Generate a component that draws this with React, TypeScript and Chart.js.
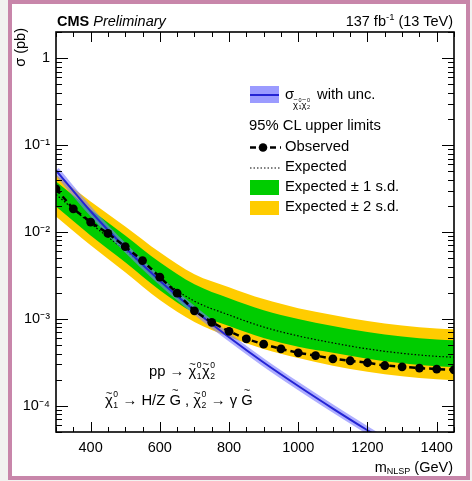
import React, { useEffect, useRef } from "react";
import { Chart, registerables } from "chart.js";

Chart.register(...registerables);

const FONT = '"Liberation Sans", Arial, Helvetica, sans-serif';

// ---- data ----
const massObs = [300, 350, 400, 450, 500, 550, 600, 650, 700, 750, 800, 850, 900, 950, 1000, 1050, 1100, 1150, 1200, 1250, 1300, 1350, 1400, 1450];
const obsLimit = [0.0313, 0.0185, 0.0130, 0.00964, 0.00679, 0.00469, 0.00302, 0.00198, 0.00124, 0.000914, 0.00072, 0.000589, 0.000512, 0.000452, 0.000407, 0.000379, 0.000347, 0.00033, 0.000313, 0.000291, 0.000281, 0.000272, 0.000265, 0.00026];

const massExp = [300, 400, 500, 600, 700, 800, 900, 1000, 1100, 1200, 1300, 1400, 1450];
const expLimit = [0.027, 0.01254, 0.00615, 0.00294, 0.0016, 0.00111, 0.000807, 0.000637, 0.00053, 0.000452, 0.000402, 0.000371, 0.000363];
const exp1Up = [0.038, 0.01815, 0.00914, 0.00449, 0.00251, 0.00173, 0.00126, 0.000998, 0.00083, 0.000708, 0.000629, 0.000581, 0.000569];
const exp1Down = [0.01965, 0.00914, 0.00449, 0.00214, 0.00117, 0.00083, 0.000604, 0.000477, 0.000407, 0.000347, 0.000308, 0.000285, 0.000279];
const exp2Up = [0.0457, 0.02243, 0.01159, 0.00584, 0.00327, 0.00232, 0.00169, 0.00133, 0.00111, 0.000946, 0.00084, 0.000776, 0.00076];
const exp2Down = [0.0151, 0.00702, 0.00344, 0.00165, 0.000922, 0.000621, 0.000452, 0.000356, 0.000289, 0.000246, 0.000219, 0.000202, 0.000198];

const massTheory = [300, 400, 500, 600, 700, 800, 900, 1000, 1100, 1200, 1300];
const xsecTheory = [0.0512, 0.01734, 0.00659, 0.00275, 0.001256, 0.000615, 0.000315, 0.000169, 0.0000931, 0.0000524, 0.00003];

const xTickValues = [400, 600, 800, 1000, 1200, 1400];
const xTickLabels = ["400", "600", "800", "1000", "1200", "1400"];
const yTickValues = [1e-4, 1e-3, 1e-2, 1e-1, 1];
const yTickLabels = ["10\u207B\u2074", "10\u207B\u00B3", "10\u207B\u00B2", "10\u207B\u00B9", "1"];

const X_MIN = 300;
const X_MAX = 1450;
const Y_MIN = 5e-5;
const Y_MAX = 2;

const YELLOW = "#ffcc00";
const GREEN = "#00cc00";
const BLUE = "#2424d4";
const BLUE_BAND = "rgba(120,120,255,0.6)";

const pts = (xs: number[], ys: number[]) => xs.map((x, i) => ({ x, y: ys[i] }));

const frameTicks = {
  id: "frameTicks",
  afterDatasetsDraw(chart: any) {
    const { ctx, chartArea: a, scales } = chart;
    const xs = scales.x;
    const ys = scales.y;
    ctx.save();
    ctx.strokeStyle = "#000";
    ctx.lineWidth = 1;
    ctx.beginPath();
    for (let v = X_MIN; v <= X_MAX; v += 50) {
      const px = Math.round(xs.getPixelForValue(v)) + 0.5;
      const len = v % 200 === 0 ? 10 : 5;
      ctx.moveTo(px, a.bottom);
      ctx.lineTo(px, a.bottom - len);
      ctx.moveTo(px, a.top);
      ctx.lineTo(px, a.top + len);
    }
    for (let e = -5; e <= 0; e++) {
      for (let k = 1; k <= 9; k++) {
        const v = k * Math.pow(10, e);
        if (v < Y_MIN || v > Y_MAX) continue;
        const py = Math.round(ys.getPixelForValue(v)) + 0.5;
        const len = k === 1 ? 12 : 6;
        ctx.moveTo(a.left, py);
        ctx.lineTo(a.left + len, py);
        ctx.moveTo(a.right, py);
        ctx.lineTo(a.right - len, py);
      }
    }
    ctx.stroke();
    ctx.lineWidth = 1.6;
    ctx.strokeRect(a.left, a.top, a.right - a.left, a.bottom - a.top);
    ctx.restore();
  },
};

function T({ x, y, size = 14.5, align = "left", children, style }: any) {
  const s: any = {
    position: "absolute",
    top: y - 0.8465 * size,
    fontSize: size,
    lineHeight: 1,
    fontFamily: FONT,
    color: "#000",
    whiteSpace: "nowrap",
    ...style,
  };
  if (align === "right") s.right = 472 - x;
  else s.left = x;
  return <div style={s}>{children}</div>;
}

// letter with a tilde drawn above it; h = height of tilde centre above baseline (in em)
function Tilde({ ch, size, h }: any) {
  const f = size * 0.75;
  return (
    <span style={{ position: "relative", display: "inline-block", lineHeight: 1 }}>
      {ch}
      <span
        style={{
          position: "absolute",
          left: 0,
          right: 0,
          textAlign: "center",
          top: (0.8465 - h) * size - 0.62 * f,
          fontSize: f,
          lineHeight: 1,
        }}
      >
        ~
      </span>
    </span>
  );
}

function Chi({ sup, sub, size }: any) {
  const f = size * 0.58;
  return (
    <span style={{ whiteSpace: "nowrap" }}>
      <Tilde ch={"\u03C7"} size={size} h={0.74} />
      <span style={{ display: "inline-block", position: "relative", width: size * 0.38, height: 0 }}>
        <span style={{ position: "absolute", left: size * 0.04, top: -0.55 * size - 0.8465 * f, fontSize: f, lineHeight: 1 }}>{sup}</span>
        <span style={{ position: "absolute", left: size * 0.04, top: 0.17 * size - 0.8465 * f, fontSize: f, lineHeight: 1 }}>{sub}</span>
      </span>
    </span>
  );
}

export default function App() {
  const ref = useRef<HTMLCanvasElement | null>(null);

  useEffect(() => {
    if (!ref.current) return;
    const band = { borderWidth: 0, borderColor: "rgba(0,0,0,0)", pointRadius: 0, cubicInterpolationMode: "monotone", clip: 0 };
    const chart = new Chart(ref.current, {
      type: "line",
      data: {
        datasets: [
          { ...band, data: pts(massExp, exp2Up), backgroundColor: YELLOW, fill: 1, order: 10 },
          { ...band, data: pts(massExp, exp2Down), fill: false, order: 10 },
          { ...band, data: pts(massExp, exp1Up), backgroundColor: GREEN, fill: 3, order: 9 },
          { ...band, data: pts(massExp, exp1Down), fill: false, order: 9 },
          {
            data: pts(massExp, expLimit),
            borderColor: "#000",
            borderWidth: 1.2,
            borderDash: [1.5, 2],
            pointRadius: 0,
            fill: false,
            cubicInterpolationMode: "monotone",
            clip: 0,
            order: 5,
          },
          {
            data: pts(massTheory, xsecTheory),
            borderColor: BLUE_BAND,
            borderWidth: 7,
            pointRadius: 0,
            fill: false,
            cubicInterpolationMode: "monotone",
            clip: 0,
            order: 4,
          },
          {
            data: pts(massTheory, xsecTheory),
            borderColor: BLUE,
            borderWidth: 2,
            pointRadius: 0,
            fill: false,
            cubicInterpolationMode: "monotone",
            clip: 0,
            order: 3,
          },
          {
            data: pts(massObs, obsLimit),
            borderColor: "#000",
            borderWidth: 2.5,
            borderDash: [6, 4],
            pointRadius: 4.4,
            pointBackgroundColor: "#000",
            pointBorderWidth: 0,
            fill: false,
            tension: 0,
            order: 1,
          },
        ] as any,
      },
      options: {
        animation: false,
        responsive: false,
        maintainAspectRatio: false,
        devicePixelRatio: 1,
        layout: { padding: { top: 32, right: 18, left: 0, bottom: 0 } },
        plugins: { legend: { display: false }, title: { display: false }, tooltip: { enabled: false } },
        events: [],
        scales: {
          x: {
            type: "linear",
            min: X_MIN,
            max: X_MAX,
            grid: { display: false, drawTicks: false },
            border: { display: false },
            afterBuildTicks: (s: any) => {
              s.ticks = xTickValues.map((v) => ({ value: v }));
            },
            afterFit: (s: any) => {
              s.height = 49;
            },
            ticks: {
              autoSkip: false,
              maxRotation: 0,
              padding: 7,
              color: "#000",
              font: { family: FONT, size: 14.5 },
              callback: (_v: any, i: number) => xTickLabels[i],
            },
          },
          y: {
            type: "logarithmic",
            min: Y_MIN,
            max: Y_MAX,
            grid: { display: false, drawTicks: false },
            border: { display: false },
            afterBuildTicks: (s: any) => {
              s.ticks = yTickValues.map((v) => ({ value: v }));
            },
            afterFit: (s: any) => {
              s.width = 56;
            },
            ticks: {
              autoSkip: false,
              padding: 6,
              color: "#000",
              font: { family: FONT, size: 14.5 },
              callback: (_v: any, i: number) => yTickLabels[i],
            },
          },
        },
      } as any,
      plugins: [frameTicks],
    });
    return () => chart.destroy();
  }, []);

  return (
    <div style={{ position: "fixed", left: 0, top: 0, width: 472, height: 481, background: "#f2f2f0", overflow: "hidden" }}>
      <div
        style={{
          position: "absolute",
          left: 8,
          top: 0,
          width: 462,
          height: 480,
          boxSizing: "border-box",
          border: "4px solid #c886aa",
          background: "#fff",
        }}
      />
      <canvas ref={ref} width={472} height={481} style={{ position: "absolute", left: 0, top: 0, width: 472, height: 481 }} />

      {/* header */}
      <T x={57} y={26} size={14.5}>
        <b>CMS</b> <i>Preliminary</i>
      </T>
      <T x={453} y={26} size={14.5} align="right">
        137 fb<span style={{ fontSize: 9.5, position: "relative", top: -6 }}>-1</span> (13 TeV)
      </T>

      {/* y axis title */}
      <div
        style={{
          position: "absolute",
          left: 20 - 40,
          top: 28 + 40 - 8,
          width: 80,
          height: 16,
          lineHeight: "16px",
          textAlign: "right",
          fontFamily: FONT,
          fontSize: 14.5,
          transform: "rotate(-90deg)",
          whiteSpace: "nowrap",
        }}
      >
        {"\u03C3 (pb)"}
      </div>

      {/* x axis title */}
      <T x={453} y={472} size={14.5} align="right">
        m<span style={{ fontSize: 9, position: "relative", top: 2.5 }}>NLSP</span> (GeV)
      </T>

      {/* legend */}
      <div style={{ position: "absolute", left: 250, top: 86, width: 29, height: 17, background: "#9b9bff" }} />
      <div style={{ position: "absolute", left: 250, top: 93.5, width: 29, height: 2, background: BLUE }} />
      <T x={285} y={100} size={14.8}>{"\u03C3"}</T>
      <T x={293} y={108} size={9.5}>
        <Chi sup="0" sub="1" size={9.5} />
        <Chi sup="0" sub="2" size={9.5} />
      </T>
      <T x={317} y={100} size={14.8}>with unc.</T>

      <T x={249} y={131} size={14.8}>95% CL upper limits</T>

      <svg style={{ position: "absolute", left: 248, top: 140 }} width={36} height={14}>
        <line x1={2} y1={7.5} x2={33} y2={7.5} stroke="#000" strokeWidth={2.5} strokeDasharray="6 4" />
        <circle cx={15} cy={7.5} r={4.3} fill="#000" />
      </svg>
      <T x={285} y={152} size={14.8}>Observed</T>

      <svg style={{ position: "absolute", left: 248, top: 161 }} width={36} height={14}>
        <line x1={2} y1={7} x2={33} y2={7} stroke="#000" strokeWidth={1.2} strokeDasharray="1.5 2" />
      </svg>
      <T x={285} y={172} size={14.8}>Expected</T>

      <div style={{ position: "absolute", left: 250, top: 180, width: 29, height: 15, background: GREEN }} />
      <T x={285} y={192} size={14.8}>Expected ± 1 s.d.</T>

      <div style={{ position: "absolute", left: 250, top: 201, width: 29, height: 14, background: YELLOW }} />
      <T x={285} y={212} size={14.8}>Expected ± 2 s.d.</T>

      {/* process annotation */}
      <T x={149} y={377} size={14.8}>
        pp {"\u2192"} <Chi sup="0" sub="1" size={14.8} />
        <Chi sup="0" sub="2" size={14.8} />
      </T>
      <T x={105} y={406} size={14.8}>
        <Chi sup="0" sub="1" size={14.8} /> {"\u2192"} H/Z <Tilde ch="G" size={14.8} h={0.95} /> , <Chi sup="0" sub="2" size={14.8} />{" "}
        {"\u2192"} {"\u03B3"} <Tilde ch="G" size={14.8} h={0.95} />
      </T>
    </div>
  );
}
